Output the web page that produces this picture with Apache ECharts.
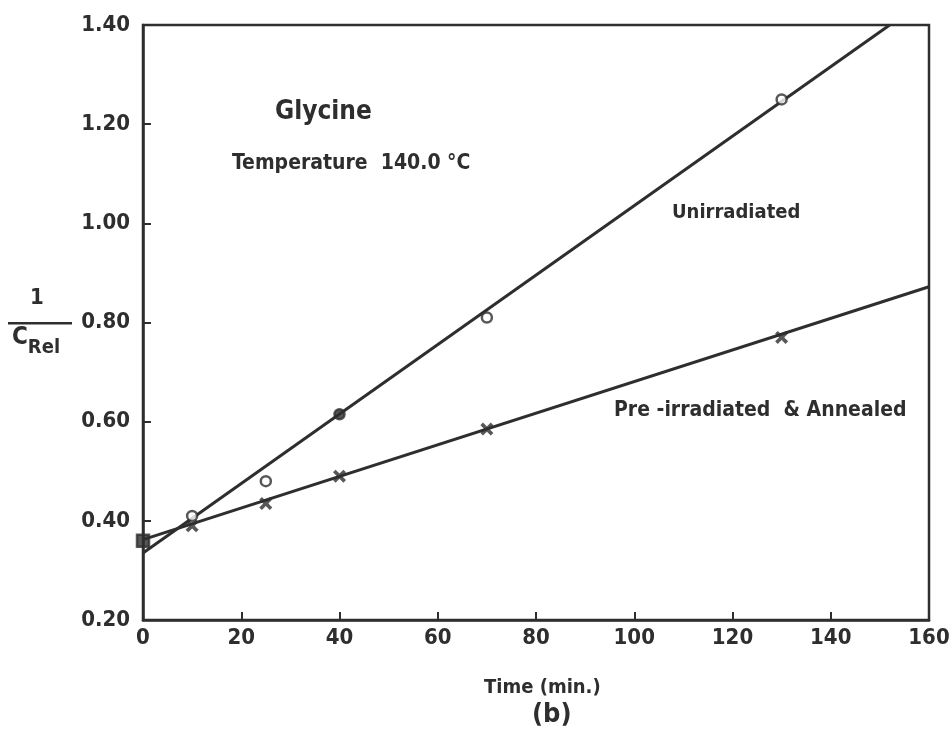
<!DOCTYPE html>
<html lang="en">
<head>
    <meta charset="utf-8">
    <title>Glycine</title>
    <script src="https://cdn.jsdelivr.net/npm/echarts@6/dist/echarts.min.js"></script>
    <style>
        html, body { margin: 0; padding: 0; background: #fff; }
        #main { width: 952px; height: 745px; }
    </style>
</head>
<body>
<div id="main"></div>
<script>
    // measured points
    var timeVals = [0, 10, 25, 40, 70, 130];
    var unirradiated = [0.36, 0.41, 0.48, 0.615, 0.81, 1.25];
    var preIrradiated = [0.36, 0.39, 0.435, 0.49, 0.585, 0.77];
    // fitted straight lines (end points)
    var fitUnirr = [[0, 0.335], [152, 1.40]];
    var fitPre = [[0, 0.362], [160, 0.872]];
    var xTicks = [0, 20, 40, 60, 80, 100, 120, 140, 160];
    var yTicks = ['0.20', '0.40', '0.60', '0.80', '1.00', '1.20', '1.40'];

    var ink = '#2e2e2e';
    var font = '"DejaVu Sans Condensed", sans-serif';
    var crossPath = 'path://M0,2 L2,0 L5,3 L8,0 L10,2 L7,5 L10,8 L8,10 L5,7 L2,10 L0,8 L3,5 Z';

    var unirrData = timeVals.map(function (t, i) {
        var item = { value: [t, unirradiated[i]] };
        if (t === 0) {
            item.symbol = 'rect';
            item.symbolSize = 12;
            item.itemStyle = { color: ink, borderColor: ink };
        } else if (t === 40) {
            item.itemStyle = { color: ink, borderColor: ink };
        }
        return item;
    });
    var preData = timeVals.map(function (t, i) {
        return [t, preIrradiated[i]];
    }).filter(function (d) { return d[0] !== 0; });

    var chart = echarts.init(document.getElementById('main'));
    var option = {
        backgroundColor: '#fff',
        animation: false,
        grid: {
            left: 143, top: 25, right: 23, bottom: 125, containLabel: false, outerBoundsMode: 'none',
            show: true, borderColor: ink, borderWidth: 2.5
        },
        xAxis: {
            type: 'value', min: 0, max: 160, interval: 20,
            axisLine: { lineStyle: { color: ink, width: 2.5 } },
            axisTick: { inside: true, length: 8, lineStyle: { color: ink, width: 2 } },
            splitLine: { show: false },
            axisLabel: { color: ink, fontSize: 22, fontWeight: 'bold', fontFamily: font, margin: 7 }
        },
        yAxis: {
            type: 'value', min: 0.2, max: 1.4, interval: 0.2,
            axisLine: { show: true, lineStyle: { color: ink, width: 2.5 } },
            axisTick: { show: true, inside: true, length: 8, lineStyle: { color: ink, width: 2 } },
            splitLine: { show: false },
            axisLabel: {
                color: ink, fontSize: 22, fontWeight: 'bold', fontFamily: font, margin: 13,
                formatter: function (v) { return v.toFixed(2); }
            }
        },
        series: [
            {
                type: 'line', data: fitUnirr, symbol: 'none', silent: true,
                lineStyle: { color: ink, width: 3 }, z: 2
            },
            {
                type: 'line', data: fitPre, symbol: 'none', silent: true,
                lineStyle: { color: ink, width: 3 }, z: 2
            },
            {
                type: 'scatter', data: unirrData, symbol: 'circle', symbolSize: 10,
                itemStyle: { color: '#fff', borderColor: ink, borderWidth: 2.5 }, z: 5
            },
            {
                type: 'scatter', data: preData, symbol: crossPath, symbolSize: 13,
                itemStyle: { color: ink }, z: 5
            }
        ],
        graphic: [
            { type: 'text', left: 275, top: 99, style: { text: 'Glycine', font: 'bold 26px ' + font, fill: ink } },
            { type: 'text', left: 232, top: 153, style: { text: 'Temperature  140.0 °C', font: 'bold 21px ' + font, fill: ink } },
            { type: 'text', left: 672, top: 203, style: { text: 'Unirradiated', font: 'bold 20px ' + font, fill: ink } },
            { type: 'text', left: 614, top: 400, style: { text: 'Pre -irradiated  & Annealed', font: 'bold 21px ' + font, fill: ink } },
            { type: 'text', left: 484, top: 678, style: { text: 'Time (min.)', font: 'bold 20px ' + font, fill: ink } },
            { type: 'text', left: 532, top: 701, style: { text: '(b)', font: 'bold 27px ' + font, fill: ink } },
            { type: 'text', left: 30, top: 287, style: { text: '1', font: 'bold 22px ' + font, fill: ink } },
            { type: 'rect', shape: { x: 8, y: 322, width: 64, height: 2.5 }, style: { fill: ink } },
            {
                type: 'text', left: 12, top: 326,
                style: {
                    text: '{c|C}{s|Rel}',
                    rich: {
                        c: { font: 'bold 24px ' + font, fill: ink, verticalAlign: 'top' },
                        s: { font: 'bold 20px ' + font, fill: ink, padding: [12, 0, 0, 0] }
                    }
                }
            }
        ]
    };
    chart.setOption(option);
</script>
</body>
</html>
